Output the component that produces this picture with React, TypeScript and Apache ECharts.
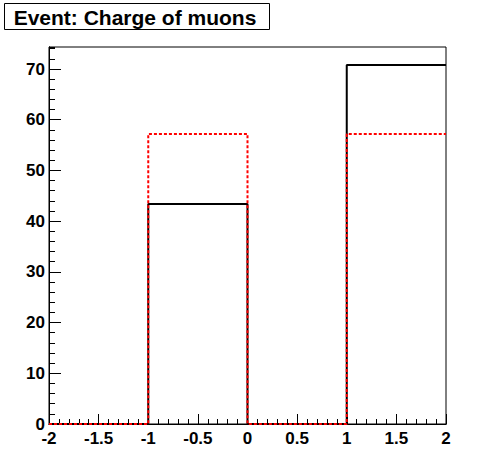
import React, { useEffect, useRef } from "react";
import * as echarts from "echarts";

const binEdges = [-2, -1, 0, 1, 2];
const blackCounts = [0, 43.4, 0, 70.8];
const redCounts = [0, 57.2, 0, 57.2];
const titleText = "Event: Charge of muons";
const yMax = 74.34;

function stepPoints(edges: number[], counts: number[]) {
  const pts: number[][] = [];
  for (let i = 0; i < counts.length; i++) {
    pts.push([edges[i], counts[i]]);
    pts.push([edges[i + 1], counts[i]]);
  }
  return pts;
}

const labelFont = {
  fontFamily: "Liberation Sans, Arial, sans-serif",
  fontWeight: "bold" as const,
  fontSize: 17,
  color: "#000",
};

export default function App() {
  const ref = useRef<HTMLDivElement>(null);
  useEffect(() => {
    if (!ref.current) return;
    const chart = echarts.init(ref.current, null, { renderer: "svg" });
    chart.setOption({
      animation: false,
      backgroundColor: "#fff",
      grid: {
        left: 49,
        right: 50,
        top: 47,
        bottom: 48,
        show: true,
        borderColor: "#000",
        borderWidth: 1,
        backgroundColor: "transparent",
      },
      graphic: [
        {
          type: "rect",
          shape: { x: 4.5, y: 3.5, width: 265, height: 26 },
          style: { fill: "#fff", stroke: "#000", lineWidth: 1 },
          z: 10,
        },
        {
          type: "text",
          x: 135,
          y: 17,
          style: {
            text: titleText,
            textAlign: "center",
            textVerticalAlign: "middle",
            font: "bold 21px 'Liberation Sans', Arial, sans-serif",
            fill: "#000",
          },
          z: 11,
        },
      ],
      xAxis: [
        {
          type: "value",
          min: -2,
          max: 2,
          interval: 0.1,
          position: "bottom",
          axisLine: { show: true, onZero: false, lineStyle: { color: "#000", width: 1 } },
          axisTick: { show: true, inside: true, length: 5, lineStyle: { color: "#000" } },
          axisLabel: { show: false },
          splitLine: { show: false },
        },
        {
          type: "value",
          min: -2,
          max: 2,
          interval: 0.5,
          position: "bottom",
          offset: 0,
          axisLine: { show: true, onZero: false, lineStyle: { color: "#000", width: 1 } },
          axisTick: { show: true, inside: true, length: 10, lineStyle: { color: "#000" } },
          axisLabel: { show: true, margin: 6, ...labelFont },
          splitLine: { show: false },
        },
      ],
      yAxis: [
        {
          type: "value",
          min: 0,
          max: yMax,
          interval: 2,
          position: "left",
          axisLine: { show: true, onZero: false, lineStyle: { color: "#000", width: 1 } },
          axisTick: { show: true, inside: true, length: 6, lineStyle: { color: "#000" } },
          axisLabel: { show: false },
          splitLine: { show: false },
        },
        {
          type: "value",
          min: 0,
          max: yMax,
          interval: 10,
          position: "left",
          offset: 0,
          axisLine: { show: true, onZero: false, lineStyle: { color: "#000", width: 1 } },
          axisTick: { show: true, inside: true, length: 12, lineStyle: { color: "#000" } },
          axisLabel: { show: true, margin: 4, showMaxLabel: false, ...labelFont },
          splitLine: { show: false },
        },
      ],
      series: [
        {
          type: "line",
          xAxisIndex: 0,
          yAxisIndex: 0,
          data: stepPoints(binEdges, blackCounts),
          symbol: "none",
          lineStyle: { color: "#000", width: 2 },
          z: 2,
        },
        {
          type: "line",
          xAxisIndex: 0,
          yAxisIndex: 0,
          data: stepPoints(binEdges, redCounts),
          symbol: "none",
          lineStyle: { color: "#ff0000", width: 2, type: [3, 2] },
          z: 3,
        },
      ],
    });
    return () => chart.dispose();
  }, []);
  return (
    <div
      ref={ref}
      style={{ position: "fixed", left: 0, top: 0, width: 496, height: 472 }}
    />
  );
}
